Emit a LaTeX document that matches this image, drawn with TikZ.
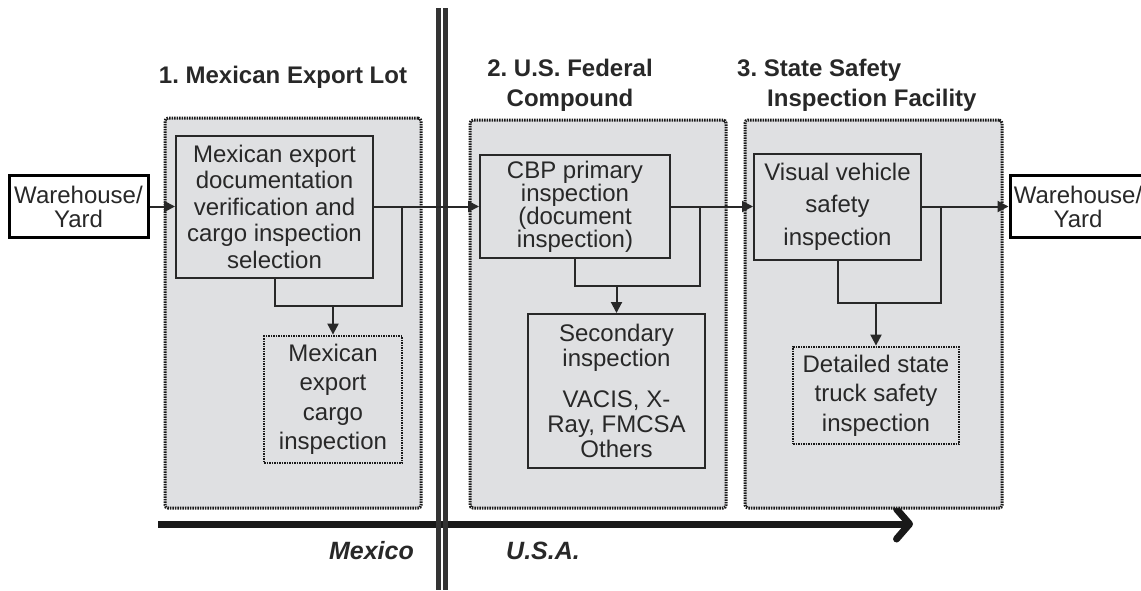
\documentclass[tikz,border=0pt]{standalone}
\usepackage{fontspec}
\setmainfont{Liberation Sans}
\usetikzlibrary{arrows.meta}
\definecolor{regfill}{RGB}{223,224,226}
\definecolor{ink}{RGB}{40,40,40}
\tikzset{
  region/.style={draw=black!90, fill=regfill, line width=3pt, dash pattern=on 1.5pt off 1pt, rounded corners=3pt, inner sep=0pt},
  solidbox/.style={draw=ink, fill=regfill, line width=2pt, inner sep=0pt, align=center, text=ink},
  dotbox/.style={draw=black!90, fill=regfill, line width=2.8pt, dash pattern=on 1.5pt off 1pt, inner sep=0pt, align=center, text=ink},
  whbox/.style={draw=black, fill=white, line width=3pt, inner sep=0pt, align=center, text=ink},
  conn/.style={draw=ink, line width=2pt},
  arr/.style={conn, -{Triangle[length=11pt,width=11pt]}},
  title/.style={font=\fontsize{24}{30}\bfseries\selectfont, text=ink, inner sep=0pt},
  country/.style={font=\fontsize{25}{30}\bfseries\itshape\selectfont, text=ink, inner sep=0pt},
}
\begin{document}
\frenchspacing
\begin{tikzpicture}[x=1pt,y=-1pt]
\useasboundingbox (0,0) rectangle (1141,590);
% bottom axis arrow
\coordinate (ax1) at (158,524);
\coordinate (ax2) at (913,524);
\draw[draw=black!90, line width=7pt, -{Straight Barb[length=13pt,width=30pt,line width=7pt,round]}] (ax1) -- (ax2);
% border double line
\coordinate (b1t) at (438,8);   \coordinate (b1b) at (438,590);
\coordinate (b2t) at (445.5,8); \coordinate (b2b) at (445.5,590);
\draw[draw=black!80, line width=5pt] (b1t) -- (b1b);
\draw[draw=black!80, line width=5pt] (b2t) -- (b2b);
% regions
\node[region, minimum width=256pt, minimum height=390pt] (r1) at (293,313) {};
\node[region, minimum width=256pt, minimum height=388pt] (r2) at (598,314) {};
\node[region, minimum width=257pt, minimum height=388pt] (r3) at (873.5,314) {};
% titles
\node[title] (t1) at (283,77) {1. Mexican Export Lot};
\node[title, align=center] (t2) at (570,85) {2. U.S. Federal\\Compound};
\node[title, align=left, anchor=west] (t3) at (737,85) {3. State Safety\\\hspace*{30pt}Inspection Facility};
% country labels
\node[country, anchor=east] (mx) at (414,551) {Mexico};
\node[country, anchor=west] (us) at (506,551) {U.S.A.};
% boxes
\node[whbox, minimum width=139pt, minimum height=62pt, font=\fontsize{24}{24}\selectfont] (wh1) at (78.5,206.5) {Warehouse/\\Yard};
\node[whbox, minimum width=136pt, minimum height=62pt, font=\fontsize{24}{24}\selectfont] (wh2) at (1078,206.5) {Warehouse/\\Yard};
\node[solidbox, minimum width=197pt, minimum height=142pt, font=\fontsize{24}{26.5}\selectfont] (a) at (274.5,206.5) {Mexican export\\documentation\\verification and\\cargo inspection\\selection};
\node[dotbox, minimum width=138pt, minimum height=127pt, font=\fontsize{24}{29.5}\selectfont] (b) at (333,399.5) {Mexican\\export\\cargo\\inspection};
\node[solidbox, minimum width=190pt, minimum height=103pt, font=\fontsize{24}{23}\selectfont] (cbp) at (575,206.5) {CBP primary\\inspection\\(document\\inspection)};
\node[solidbox, minimum width=177pt, minimum height=154pt, font=\fontsize{24}{25}\selectfont] (sec) at (616.5,391) {Secondary\\inspection\\[16pt]VACIS, X-\\Ray, FMCSA\\Others};
\node[solidbox, minimum width=167pt, minimum height=106pt, font=\fontsize{24}{32.5}\selectfont] (vis) at (837.5,206.5) {Visual vehicle\\safety\\inspection};
\node[dotbox, minimum width=166pt, minimum height=97pt, font=\fontsize{24}{29.5}\selectfont] (det) at (876,395.5) {Detailed state\\truck safety\\inspection};
% junction coordinates
\coordinate (j1) at (402,206.5); \coordinate (k1) at (402,306);
\coordinate (j2) at (700,206.5); \coordinate (k2) at (700,286);
\coordinate (j3) at (941,206.5); \coordinate (k3) at (941,303);
% connectors
\draw[arr] (wh1.east) -- (a.west);
\draw[arr] (a.east) -- (cbp.west);
\draw[conn] (a.south) -- (a.south |- k1) -- (k1) -- (j1);
\draw[arr] (b.north |- k1) -- (b.north);
\draw[arr] (cbp.east) -- (vis.west);
\draw[conn] (cbp.south) -- (cbp.south |- k2) -- (k2) -- (j2);
\draw[arr] (sec.north |- k2) -- (sec.north);
\draw[arr] (vis.east) -- (wh2.west);
\draw[conn] (vis.south) -- (vis.south |- k3) -- (k3) -- (j3);
\draw[arr] (det.north |- k3) -- (det.north);
\end{tikzpicture}
\end{document}
